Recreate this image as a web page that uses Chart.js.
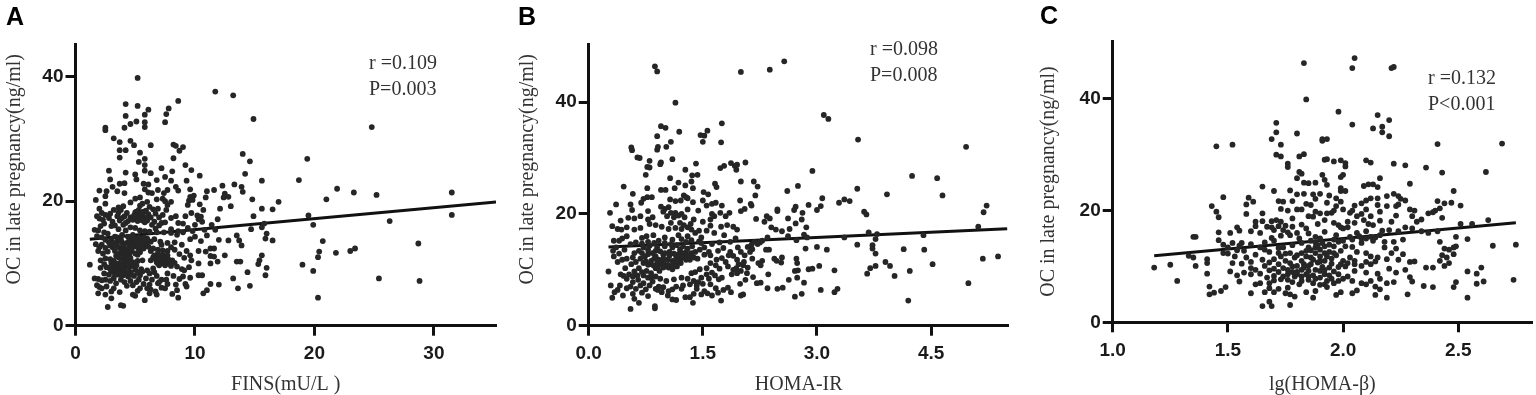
<!DOCTYPE html>
<html>
<head>
<meta charset="utf-8">
<title>OC in late pregnancy</title>
<script src="https://cdn.jsdelivr.net/npm/chart.js@4"></script>
<style>
    html, body { margin: 0; padding: 0; background: #ffffff; }
    body { position: relative; width: 1536px; height: 395px; overflow: hidden; }
    .panel { position: absolute; top: 0; width: 512px; height: 395px; }
    .letter { position: absolute; font: bold 25px "Liberation Sans", sans-serif; color: #000000; line-height: 25px; }
    .note { position: absolute; font: 20px "Liberation Serif", serif; color: #333333; line-height: 26px; white-space: pre; }
</style>
</head>
<body>
<div class="panel" style="left:0"><canvas id="chartA" width="512" height="395"></canvas></div>
<div class="panel" style="left:512px"><canvas id="chartB" width="512" height="395"></canvas></div>
<div class="panel" style="left:1024px"><canvas id="chartC" width="512" height="395"></canvas></div>
<div class="letter" style="left:6px;top:4px">A</div>
<div class="letter" style="left:518px;top:4px">B</div>
<div class="letter" style="left:1040px;top:3px">C</div>
<div class="note" style="left:369px;top:49px">r =0.109
P=0.003</div>
<div class="note" style="left:870px;top:35px">r =0.098
P=0.008</div>
<div class="note" style="left:1428px;top:64px">r =0.132
P&lt;0.001</div>
<script>
// Values: [x, OC]
const finsPoints = [
    [5.2,39.8],[11.7,37.6],[13.2,37.0],[4.2,35.6],[5.2,35.3],[6.1,34.7],[7.8,34.9],[8.6,36.1],[7.6,34.0],[4.2,33.7],
    [5.8,33.9],[14.9,33.2],[5.1,32.8],[4.6,32.4],[5.8,32.7],[7.5,32.7],[4.1,31.8],[5.8,31.9],[2.5,31.8],[2.5,31.4],
    [24.8,31.9],[3.2,30.1],[3.7,29.5],[4.6,29.7],[4.9,29.0],[6.3,29.0],[8.2,29.1],[8.4,28.9],[9.0,28.7],[8.7,28.1],
    [3.7,28.2],[4.2,28.2],[5.4,27.8],[14.0,27.6],[19.4,26.8],[3.7,27.0],[5.8,26.8],[8.2,26.9],[5.3,26.3],[14.6,26.4],
    [5.8,25.8],[9.2,25.8],[7.2,25.3],[9.7,25.0],[2.8,24.9],[5.8,24.9],[4.2,24.6],[5.0,24.3],[6.3,24.5],[8.1,24.8],
    [14.2,24.4],[10.4,24.1],[7.5,23.9],[2.9,23.5],[5.1,23.5],[6.8,23.4],[8.0,23.3],[9.3,23.3],[15.6,23.3],[18.7,23.4],
    [3.7,22.8],[4.1,22.9],[5.7,22.8],[6.1,22.7],[13.3,22.7],[12.3,22.5],[13.9,22.3],[3.1,22.3],[8.4,22.3],[21.9,22.0],
    [2.0,21.7],[2.6,21.6],[11.6,21.8],[11.0,21.6],[14.0,21.5],[23.3,21.4],[31.5,21.4],[25.2,21.0],[3.5,21.6],[4.1,21.3],
    [6.9,21.8],[7.7,21.8],[8.6,21.7],[9.6,21.9],[12.5,21.2],[12.8,20.7],[14.8,20.3],[21.0,20.3],[1.7,20.2],[2.5,20.8],
    [9.6,20.7],[9.9,20.9],[9.5,20.1],[9.8,20.2],[10.9,20.6],[12.4,20.6],[17.0,19.9],[10.4,19.5],[2.5,19.6],[2.0,18.8],
    [12.1,18.8],[15.6,18.8],[16.5,18.7],[13.0,19.2],[10.7,18.6],[19.5,17.7],[31.5,17.8],[14.9,17.6],[11.9,17.1],[26.3,16.8],
    [19.9,16.2],[15.8,16.4],[14.7,15.5],[15.6,15.8],[11.4,16.2],[11.7,15.4],[16.0,14.8],[15.9,14.0],[16.5,13.7],[20.7,13.6],
    [13.5,14.5],[12.8,13.7],[13.7,13.7],[13.9,12.9],[20.4,11.9],[21.8,11.7],[23.4,12.4],[23.0,12.0],[28.7,13.2],[20.3,11.0],
    [15.6,11.3],[12.5,11.3],[15.4,10.5],[15.3,9.9],[13.5,10.3],[13.8,10.3],[19.0,9.8],[1.2,9.8],[16.0,9.3],[19.9,8.8],
    [14.4,8.6],[15.9,8.1],[13.2,7.6],[25.4,7.6],[28.8,7.2],[14.6,6.4],[13.6,6.0],[12.0,6.6],[11.3,6.7],[10.7,5.2],
    [11.0,5.7],[20.3,4.5],[2.7,3.0],[3.8,3.3],[4.0,3.2],[3.0,4.4],[5.8,4.1],[8.6,4.5],[5.0,4.8],[1.9,5.2],
    [2.5,5.0],[6.2,5.2],[8.1,5.1],[9.3,6.3],[10.3,8.1],[10.6,8.1],[9.6,7.7],[9.5,9.4],[10.3,10.0],[10.9,11.9],
    [11.3,12.4],[11.6,12.4],[11.3,11.2],[11.6,11.1],[11.3,10.0],[11.9,10.3],[10.5,13.6],[11.0,14.5],[12.0,13.8],[9.6,13.9],
    [9.3,12.0],[9.6,11.3],[9.1,10.9],[8.9,9.1],[9.1,8.9],[8.7,7.5],[9.2,6.7],[8.5,5.7],[10.6,16.7],[10.3,17.1],
    [10.5,17.5],[10.2,17.7],[9.7,18.1],[9.2,17.6],[8.6,16.5],[9.4,15.7],[9.8,15.2],[9.0,15.0],[8.5,14.6],[8.9,13.0],
    [8.3,12.2],[8.7,11.5],[8.1,10.5],[8.0,9.6],[7.7,8.4],[7.2,7.4],[7.7,6.7],[7.2,6.1],[6.7,5.5],[6.9,6.8],
    [8.0,19.9],[7.7,19.4],[7.5,20.0],[7.3,20.4],[7.4,21.3],[6.8,20.3],[6.4,21.3],[6.1,21.4],[5.8,21.9],[5.4,20.6],
    [5.0,20.4],[4.6,19.8],[6.0,19.9],[5.6,19.6],[6.2,19.1],[6.5,18.7],[6.7,18.0],[5.9,18.5],[5.4,19.3],[5.1,18.3],
    [5.3,17.9],[5.6,17.7],[5.9,17.4],[5.4,17.2],[5.1,17.4],[6.0,16.9],[5.6,16.9],[4.8,17.0],[6.6,16.7],[7.2,16.5],
    [3.6,19.0],[3.6,18.2],[3.5,17.6],[3.8,18.6],[3.1,16.7],[3.3,16.1],[3.6,15.5],[4.0,16.2],[4.4,16.8],[4.6,15.8],
    [5.0,15.7],[5.4,15.3],[5.8,15.2],[6.2,15.1],[6.8,15.0],[7.4,15.0],[8.0,14.9],[4.2,15.3],[3.9,14.6],[3.3,14.3],
    [3.0,13.9],[3.5,13.5],[3.9,13.4],[4.4,14.3],[4.8,14.6],[5.0,14.0],[5.3,14.2],[5.6,13.7],[5.1,13.3],[5.5,13.0],
    [5.9,13.2],[6.1,12.7],[5.7,12.4],[5.3,12.3],[4.9,12.7],[4.5,12.8],[4.1,12.4],[3.7,12.5],[3.3,12.0],[3.7,11.6],
    [4.1,11.3],[4.5,11.5],[3.4,11.2],[3.8,10.8],[4.2,10.5],[3.2,10.4],[3.6,10.0],[4.0,9.8],[4.4,9.9],[4.8,10.2],
    [5.2,10.4],[5.6,10.5],[5.2,11.4],[6.5,12.4],[6.9,12.2],[7.3,12.1],[7.7,12.0],[6.6,11.3],[7.0,11.0],[7.4,10.8],
    [6.3,10.5],[6.8,10.2],[7.2,10.3],[7.6,10.0],[7.0,9.7],[6.5,9.2],[6.0,8.9],[5.5,9.1],[5.0,9.0],[4.6,8.6],
    [4.2,8.7],[3.8,8.9],[3.4,9.0],[3.0,8.7],[3.6,8.2],[4.0,8.1],[4.4,7.9],[4.9,8.0],[5.4,8.1],[3.2,7.6],
    [3.8,7.4],[4.6,7.2],[5.1,7.0],[5.9,7.6],[6.4,7.4],[6.8,8.0],[5.7,6.7],[6.2,6.6],[3.4,6.8],[4.3,6.4],
    [3.2,6.0],[3.0,5.5],[3.7,5.4],[4.8,5.0],[5.2,5.6],[6.8,5.0],[7.5,6.0],[2.2,13.0],[2.0,12.6],[2.5,12.5],
    [1.9,12.0],[2.3,11.6],[2.7,11.9],[2.1,10.5],[2.5,10.8],[2.9,10.7],[2.6,9.4],[2.9,9.1],[1.6,7.6],[1.9,7.5],
    [2.2,7.3],[2.5,7.4],[2.9,7.2],[1.8,6.5],[2.0,6.2],[2.2,6.0],[2.6,6.3],[1.8,17.6],[2.0,17.2],[2.3,17.0],
    [2.8,17.3],[1.6,15.4],[1.9,15.3],[2.4,15.0],[2.7,14.8],[3.0,16.0],[4.7,13.6],[6.6,13.9],[7.1,13.5],[7.7,13.3],
    // dense middle of the cloud
    [5.0,18.2],[5.3,18.6],[5.7,18.3],[6.1,17.9],[6.3,17.4],[5.2,16.8],[4.9,17.7],[5.5,18.1],[5.8,16.6],[6.4,16.2],
    [4.6,17.4],[4.3,18.1],[4.1,17.6],[4.0,19.2],[3.7,16.9],[3.9,17.3],[4.2,16.5],[6.7,15.6],[7.0,16.1],[7.5,16.6],
    [4.5,13.7],[4.7,13.1],[5.0,12.9],[5.2,12.9],[5.4,12.7],[5.6,13.2],[5.8,13.0],[5.0,13.6],[5.3,13.8],[5.7,14.2],
    [6.0,14.0],[6.3,13.5],[4.8,14.0],[4.3,13.3],[4.0,13.0],[3.8,13.9],[3.5,14.2],[3.2,13.3],[2.9,12.9],[3.1,12.6],
    [3.5,12.8],[3.9,12.1],[4.2,11.9],[4.4,12.2],[4.7,12.0],[5.0,11.6],[5.4,11.8],[3.6,11.0],[3.9,11.4],[4.3,11.0],
    [4.6,10.9],[4.0,10.4],[4.4,10.5],[3.4,10.0],[3.0,10.1],[3.7,9.5],[4.1,9.3],[4.5,9.4],[3.3,9.4],[3.0,9.6],
    [4.8,9.6],[5.1,9.7],[3.9,8.4],[4.3,8.3],[4.7,8.2],[3.5,8.6],[5.2,8.6],[5.6,8.7],[6.2,8.4],[6.6,8.6],
    [6.7,10.7],[7.0,10.5],[7.3,10.0],[7.5,9.7],[7.9,9.9],[7.4,10.3],[6.9,10.0],[7.8,10.6],[8.3,10.1],[8.5,9.5],
    [6.5,11.0],[6.9,11.6],[7.3,11.4],[7.7,11.3],[6.3,12.0],[8.0,12.6],[8.3,13.4],[7.2,13.0],[8.0,15.5],[8.6,15.2],
    [7.0,17.4],[7.3,17.8],[6.9,18.8],[7.6,18.6],[8.0,17.3],[8.4,17.6],[3.2,18.6],[2.9,18.0],[2.5,17.8],[2.2,18.1],
    [2.4,16.4],[2.1,16.0],[1.8,14.4],[2.2,14.2],[2.5,13.8],[2.8,13.4],[1.7,13.1],[2.4,9.9],[2.1,9.3],[2.4,8.4],
    [2.8,8.2],[3.3,8.2],[4.1,7.0],[4.8,6.5],[5.4,6.0],[6.0,6.0],[5.3,7.4],[6.3,5.8],[7.0,7.0],[7.6,7.4],
    [8.2,8.0],[9.0,7.9],[8.4,6.6],[9.7,10.5],[10.3,12.0],[10.0,14.3],[10.8,15.4],[10.0,16.2],[9.0,16.4],[9.4,19.4]
];
const homaIrPoints = [
    [0.87,46.4],[0.90,45.5],[2.00,45.4],[2.38,45.8],[2.57,47.3],[1.14,39.9],[3.09,37.7],[3.15,37.0],[1.75,36.2],[0.95,35.7],
    [1.01,35.4],[1.56,34.9],[1.19,34.7],[1.47,34.1],[1.52,34.0],[0.90,33.9],[3.54,33.3],[1.08,32.9],[1.50,32.9],[1.74,32.8],
    [4.96,32.0],[0.56,31.9],[0.57,31.4],[0.91,32.0],[0.90,31.5],[1.02,32.0],[0.64,30.1],[0.67,30.0],[0.80,29.5],[1.10,29.8],
    [0.95,29.2],[0.94,28.9],[1.41,29.0],[2.06,29.2],[1.87,29.1],[1.95,28.8],[1.92,28.6],[0.77,28.4],[0.80,28.3],[1.78,28.6],
    [1.73,28.2],[1.94,27.9],[1.27,27.9],[2.94,27.7],[1.36,26.9],[1.43,27.0],[0.75,27.0],[4.25,26.8],[1.07,26.4],[4.58,26.4],
    [1.35,25.8],[2.17,25.8],[2.00,25.8],[1.18,25.6],[1.66,25.4],[1.68,24.8],[1.27,25.1],[2.22,24.9],[2.75,25.0],[0.46,24.9],
    [0.77,24.6],[0.95,24.3],[1.01,24.3],[1.13,24.6],[1.37,24.6],[3.53,24.5],[2.61,24.1],[1.51,23.9],[1.57,23.5],[0.58,23.6],
    [3.92,23.5],[4.65,23.3],[2.19,23.3],[1.25,23.3],[1.28,23.0],[0.77,23.0],[0.72,22.7],[0.83,23.0],[3.07,22.8],[3.36,22.6],
    [3.43,22.3],[1.99,22.4],[1.07,22.6],[1.14,22.3],[1.21,22.4],[1.37,22.1],[3.29,22.0],[2.13,21.8],[2.14,21.5],[0.36,21.7],
    [0.55,21.7],[0.69,22.0],[2.89,21.6],[5.23,21.5],[3.05,21.4],[1.62,21.8],[1.67,22.0],[1.75,21.5],[2.72,21.3],[2.70,20.7],
    [2.48,20.8],[2.48,20.5],[3.00,20.7],[5.19,20.3],[3.62,20.4],[3.65,19.9],[2.00,20.5],[2.05,20.9],[2.81,20.2],[0.28,20.2],
    [0.57,20.7],[0.78,20.5],[0.31,17.8],[5.12,17.7],[2.86,17.6],[3.68,16.7],[3.79,16.4],[4.40,16.2],[3.77,15.5],[3.36,15.8],
    [3.53,14.5],[3.73,14.4],[3.73,13.8],[4.14,13.7],[4.41,13.6],[3.13,13.6],[2.85,13.8],[3.00,14.1],[3.77,12.9],[5.38,12.4],
    [5.18,12.0],[3.90,11.4],[3.96,10.7],[4.52,11.0],[3.77,10.7],[3.70,10.3],[3.66,9.3],[3.03,10.7],[2.89,10.1],[2.94,10.2],
    [3.23,9.9],[4.22,9.8],[4.02,8.9],[4.99,7.6],[3.05,6.4],[3.23,6.0],[3.27,6.6],[2.83,7.7],[2.74,8.6],[2.63,8.2],
    [2.71,5.2],[2.80,5.7],[2.55,6.8],[2.48,6.6],[2.35,6.7],[4.20,4.5],[2.71,9.8],[2.75,9.9],[2.73,12.0],[2.74,11.2],
    [2.54,12.2],[2.53,11.3],[2.44,12.0],[2.47,11.6],[2.37,13.6],[2.33,13.6],[2.28,11.6],[2.26,10.8],[2.23,11.2],[2.36,9.2],
    [2.26,7.7],[2.21,7.6],[2.16,8.7],[2.06,8.2],[2.54,16.9],[2.40,17.6],[2.46,17.2],[2.62,19.2],[2.72,18.3],[2.80,19.0],
    [2.64,17.3],[2.20,19.1],[2.31,18.6],[2.34,19.6],[2.38,19.2],[2.62,16.0],[2.73,15.3],[2.83,16.3],[2.87,15.8],[2.28,15.2],
    [2.35,15.8],[2.18,15.0],[2.14,14.5],[2.09,14.1],[2.15,13.7],[1.96,14.0],[2.00,13.2],[2.05,12.6],[2.15,12.0],[1.95,11.8],
    [1.97,11.0],[2.03,10.8],[2.09,10.4],[1.94,10.3],[2.00,9.8],[2.08,9.4],[1.88,9.2],[1.99,7.5],[2.00,5.4],[2.03,5.6],
    [1.87,6.0],[1.77,6.4],[1.83,6.8],[1.74,4.5],[1.62,5.4],[1.70,5.9],[1.56,5.8],[1.60,7.4],[1.67,6.7],[1.48,5.6],
    [1.52,6.2],[1.42,7.2],[1.37,4.1],[1.33,5.1],[1.27,5.1],[1.38,5.7],[1.10,4.7],[1.15,4.6],[1.04,5.4],[0.87,3.1],
    [0.87,3.5],[0.55,3.0],[0.66,4.1],[0.60,4.8],[0.78,5.3],[0.45,5.4],[0.31,5.0],[0.34,6.0],[0.29,7.2],[0.26,9.7],
    [0.38,6.4],[0.41,7.2],[0.50,6.7],[0.58,5.7],[0.70,5.9],[0.75,6.5],[0.91,6.4],[0.98,6.9],[1.10,6.5],[1.22,6.6],
    [1.33,7.4],[1.42,6.6],[1.48,8.6],[1.40,9.6],[1.46,10.1],[1.55,10.3],[1.60,11.2],[1.67,10.8],[1.62,9.5],[1.71,8.3],
    [1.75,8.6],[1.83,10.6],[1.80,11.4],[1.75,12.1],[1.70,13.4],[1.60,12.6],[1.52,12.7],[1.43,12.0],[1.52,14.0],[1.62,14.6],
    [1.72,14.9],[1.77,13.9],[1.86,15.0],[1.93,15.6],[1.82,18.0],[1.90,17.7],[1.95,17.2],[1.74,17.7],[1.60,17.9],[1.55,17.0],
    [1.45,17.0],[1.65,19.6],[1.80,19.6],[1.73,20.2],[1.85,20.2],[1.60,19.0],[1.50,18.6],[1.38,19.0],[1.30,20.8],[1.22,20.0],
    [1.12,19.4],[1.18,19.7],[1.08,20.2],[1.03,19.6],[1.00,20.9],[1.05,21.2],[1.25,18.0],[1.22,17.3],[1.30,17.6],[1.35,17.2],
    [1.40,16.6],[1.18,16.2],[1.10,15.4],[1.05,17.3],[0.96,17.7],[0.88,18.0],[0.78,19.0],[0.80,18.2],[0.85,16.2],[0.76,16.0],
    [0.68,17.5],[0.60,17.2],[0.50,16.0],[0.44,15.6],[0.33,15.2],[0.40,15.2],[0.38,17.3],[0.43,17.2],[0.42,18.8],[0.52,19.3],
    [0.60,19.2],[0.70,15.7],[0.62,14.9],[0.55,14.6],[0.47,13.6],[0.40,12.9],[0.33,12.4],[0.50,12.0],[0.56,11.0],[0.48,10.3],
    [0.53,9.2],[0.60,9.7],[0.66,10.3],[0.72,9.0],[0.65,8.2],[0.58,7.8],[0.50,8.4],[0.78,8.6],[0.72,7.6],[0.84,7.9],
    [0.82,9.4],[0.88,10.3],[0.93,9.8],[0.98,10.4],[0.78,10.9],[0.82,11.6],[0.90,11.2],[0.98,11.3],[1.04,10.9],[1.10,10.1],
    [1.16,10.6],[1.21,11.2],[1.28,11.8],[1.34,12.6],[1.25,12.9],[1.15,12.3],[1.06,12.5],[0.98,12.7],[0.88,12.4],[0.78,12.8],
    [0.70,13.0],[0.72,14.0],[0.80,14.3],[0.90,14.0],[1.00,14.2],[1.10,14.0],[1.20,13.6],[1.30,13.8],[1.36,14.2],[1.40,13.2],
    [0.92,15.2],[1.00,15.8],[1.28,15.0],[1.35,15.3],[1.45,15.1],[1.02,8.0],[1.12,8.3],[1.22,8.6],[1.35,9.4],[0.92,7.0],
    // dense middle of the cloud
    [0.75,11.5],[0.80,11.0],[0.85,10.8],[0.90,10.5],[0.95,10.9],[1.00,10.6],[1.05,10.4],[1.10,10.8],[1.15,11.2],[1.20,11.7],
    [1.25,12.2],[1.30,12.4],[1.35,13.0],[1.33,11.8],[1.38,12.2],[1.28,13.2],[1.22,13.0],[1.18,12.8],[1.12,12.9],[1.06,13.2],
    [1.00,13.0],[0.94,13.3],[0.88,13.4],[0.84,13.0],[0.78,13.6],[0.74,12.4],[0.68,12.0],[0.72,11.2],[0.86,12.0],[0.92,11.8],
    [0.98,12.0],[1.04,11.8],[1.10,11.6],[1.16,11.8],[1.22,12.2],[1.00,14.8],[1.08,14.6],[1.16,14.4],[1.24,14.2],[0.86,14.8],
    [0.78,15.0],[0.70,14.7],[0.66,13.4],[0.60,13.0],[0.58,12.2],[0.62,11.4],[0.44,11.8],[0.38,11.4],[0.32,13.4],[0.36,14.0],
    [0.64,9.0],[0.70,9.6],[0.76,9.8],[0.82,8.6],[0.88,8.8],[0.94,8.4],[0.58,8.8],[0.46,8.9],[0.42,9.2],[0.68,7.2],
    [0.62,6.6],[0.55,7.0],[0.80,7.2],[0.88,6.6],[0.96,6.0],[1.05,6.2],[1.15,7.0],[1.24,7.2],[1.30,8.4],[1.38,8.0],
    [1.44,7.8],[1.50,7.5],[1.55,9.2],[1.58,8.4],[1.66,9.0],[1.72,10.2],[1.68,11.8],[1.58,13.2],[1.46,13.6],[1.48,14.8],
    [1.30,16.0],[1.22,15.5],[1.14,17.5],[1.08,18.4],[1.20,18.4],[1.14,20.2],[1.26,19.4],[1.34,18.2],[1.48,15.8],[1.65,16.6],
    [1.78,16.2],[1.86,13.2],[1.90,12.5],[1.84,12.6],[1.95,9.4],[1.90,10.0],[2.04,11.4],[2.12,13.2],[2.22,14.6],[2.25,14.9],
    [1.62,20.0],[1.55,21.5],[1.44,20.6],[1.50,22.4],[1.30,22.8],[0.95,21.3],[0.98,20.4],[0.84,19.4],[0.68,19.6],[0.50,17.6]
];
const homaBetaPoints = [
    [1.83,46.4],[2.05,47.3],[2.04,45.5],[2.21,45.5],[2.22,45.7],[1.84,39.9],[1.98,37.7],[2.15,37.1],[2.20,36.2],[1.71,35.7],
    [2.04,35.4],[2.17,35.0],[2.13,34.7],[2.17,34.0],[1.71,34.0],[1.80,33.8],[2.20,33.3],[1.69,32.8],[1.93,32.8],[1.91,32.5],
    [1.91,32.8],[1.73,31.8],[1.52,31.8],[1.45,31.5],[2.41,31.9],[2.69,32.0],[1.71,30.0],[1.73,29.7],[1.81,29.7],[1.83,30.1],
    [1.92,29.1],[1.93,29.2],[1.96,28.8],[1.99,29.0],[2.10,29.0],[2.12,28.6],[1.76,28.4],[1.76,27.8],[2.01,28.5],[2.01,27.9],
    [2.22,28.4],[2.27,28.1],[2.36,27.7],[2.43,26.8],[2.62,26.9],[1.81,26.9],[1.82,26.6],[1.91,26.4],[1.92,25.5],[1.93,24.6],
    [2.00,26.4],[1.99,26.0],[1.80,25.8],[1.83,25.0],[1.85,24.9],[2.16,25.8],[1.88,25.0],[2.29,24.8],[2.09,24.4],[2.11,24.7],
    [2.13,24.7],[2.15,24.2],[1.65,24.3],[1.99,24.0],[1.99,23.5],[2.01,23.5],[1.70,23.5],[1.77,23.6],[1.48,22.4],[2.48,23.5],
    [2.41,21.7],[1.43,20.8],[1.45,19.8],[1.46,18.8],[1.58,21.1],[1.59,22.3],[1.61,21.6],[1.58,19.4],[1.65,19.5],[2.54,14.9],
    [2.65,13.7],[2.75,13.9],[2.63,18.3],[2.56,17.6],[2.51,17.6],[2.51,20.9],[2.47,21.4],[2.44,21.3],[2.40,20.0],[2.42,20.4],
    [1.35,15.3],[1.36,15.3],[1.46,16.1],[1.46,14.7],[1.51,16.0],[1.54,17.0],[1.18,9.8],[1.25,10.3],[1.28,7.4],[1.33,11.9],
    [1.35,11.6],[1.36,10.1],[1.41,11.3],[1.41,10.6],[1.41,8.7],[1.42,6.4],[1.42,5.0],[1.44,5.3],[1.47,5.6],[1.49,6.3],
    [1.51,9.1],[1.60,5.2],[1.65,2.9],[1.69,2.9],[1.68,3.7],[1.77,3.1],[2.74,7.6],[2.54,4.4],[2.48,6.3],[2.49,7.2],
    [2.54,9.1],[2.58,8.7],[2.60,9.8],[2.58,6.9],[2.61,7.3],[2.28,5.0],[2.19,4.4],[2.39,6.3],[2.35,6.5],[2.04,5.2],
    [2.06,5.7],[2.14,4.9],[2.16,5.9],[2.14,6.4],[2.10,6.8],[2.36,9.8],[2.39,9.8],[2.49,13.6],[2.49,15.3],[2.48,12.2],
    [2.42,14.4],[2.44,13.2],[2.46,13.0],[2.43,12.0],[2.45,11.6],[2.42,11.0],[2.44,10.1],[2.46,10.6],[2.48,13.4],[2.41,16.3],
    [2.37,16.0],[2.34,16.3],[2.30,16.8],[2.32,18.0],[2.30,19.0],[2.34,18.4],[2.29,20.2],[2.31,20.0],[2.37,19.5],[2.39,19.7],
    [2.43,18.7],[2.25,22.1],[2.24,21.1],[2.27,21.8],[2.22,23.0],[2.24,22.6],[2.19,22.6],[2.15,22.2],[2.12,22.2],[2.10,21.8],
    [2.08,21.3],[2.15,21.0],[2.19,20.8],[2.23,20.8],[2.16,19.8],[2.10,20.2],[2.05,20.9],[2.03,19.6],[2.06,19.0],[2.09,18.3],
    [2.11,17.6],[2.13,17.4],[2.23,19.1],[2.21,18.0],[2.20,16.5],[2.24,16.3],[2.27,17.0],[2.17,16.4],[2.12,15.3],[2.08,15.0],
    [2.03,15.3],[2.00,16.8],[2.02,17.0],[1.98,17.4],[1.96,17.8],[1.92,18.3],[1.95,19.6],[1.90,19.5],[1.85,19.0],[1.87,18.9],
    [1.80,20.2],[1.82,20.2],[1.73,20.3],[1.74,21.6],[1.78,21.7],[1.84,21.2],[1.88,22.1],[1.90,23.0],[1.94,22.7],[1.97,22.2],
    [1.99,21.6],[1.93,21.4],[1.97,20.8],[2.00,20.2],[1.87,22.9],[1.83,23.0],[1.80,22.9],[1.69,18.1],[1.71,18.3],[1.73,18.0],
    [1.75,17.3],[1.78,18.6],[1.82,17.5],[1.84,16.8],[1.89,17.6],[1.65,18.1],[1.67,17.1],[1.62,17.2],[1.60,16.3],[1.64,16.0],
    [1.70,16.5],[1.73,15.5],[1.77,15.6],[1.81,15.0],[1.88,15.3],[1.92,16.2],[1.97,15.6],[1.70,14.6],[1.66,14.3],[1.60,14.0],
    [1.55,13.7],[1.52,14.2],[1.50,12.3],[1.53,11.8],[1.56,10.5],[1.60,10.8],[1.57,12.8],[1.62,12.1],[1.65,11.2],[1.68,12.6],
    [1.72,13.3],[1.75,12.3],[1.70,11.3],[1.66,10.1],[1.64,8.7],[1.57,8.9],[1.55,7.3],[1.64,7.0],[1.68,6.1],[1.66,5.4],
    [1.70,5.4],[1.73,7.7],[1.70,8.3],[1.74,9.7],[1.77,10.6],[1.79,11.6],[1.82,12.4],[1.85,13.4],[1.88,14.3],[1.92,13.6],
    [1.86,11.6],[1.88,12.4],[1.90,11.8],[1.92,11.0],[1.94,12.6],[1.96,13.6],[1.98,14.4],[1.89,10.7],[1.95,10.5],[1.98,9.9],
    [2.00,11.0],[2.03,11.6],[2.06,12.6],[2.04,13.5],[2.08,14.2],[2.13,14.6],[2.18,13.4],[2.23,13.2],[2.15,11.6],[2.19,11.3],
    [2.24,11.2],[2.29,10.8],[2.31,10.9],[2.12,10.4],[2.08,10.1],[2.05,9.2],[2.10,8.9],[2.15,8.7],[2.20,9.6],[2.23,8.9],
    [2.27,9.4],[2.29,8.1],[2.30,7.3],[2.22,7.2],[2.19,7.0],[1.80,10.1],[1.82,9.4],[1.84,8.6],[1.79,8.2],[1.76,7.6],
    [1.81,6.8],[1.77,5.0],[1.79,4.6],[1.84,5.4],[1.87,4.4],[1.88,5.6],[1.90,6.7],[1.93,6.3],[1.97,4.9],[1.99,5.4],
    [1.95,7.8],[1.98,8.6],[2.02,8.2],[1.92,8.6],[1.88,9.4],[1.85,7.6],[1.87,7.0],[1.91,9.9],[1.96,9.1],[2.01,10.0],
    // dense middle of the cloud
    [1.76,9.4],[1.78,9.0],[1.80,8.6],[1.82,8.2],[1.78,10.0],[1.83,10.4],[1.85,10.1],[1.76,8.6],[1.74,8.2],[1.72,9.0],
    [1.85,9.2],[1.87,8.4],[1.90,8.0],[1.93,7.4],[1.96,7.0],[1.92,9.4],[1.94,9.8],[1.99,10.4],[2.02,10.6],[2.05,10.4],
    [1.86,12.9],[1.88,13.4],[1.90,13.0],[1.84,11.8],[1.82,11.0],[1.87,11.2],[1.90,10.9],[1.93,11.8],[1.95,11.4],[1.97,12.0],
    [1.99,12.8],[2.01,13.6],[1.94,13.9],[1.91,14.2],[1.86,14.6],[1.82,14.2],[1.78,13.8],[1.74,13.4],[1.72,12.4],[1.77,12.4],
    [1.72,10.4],[1.68,10.7],[1.68,9.3],[1.62,9.4],[1.60,9.7],[1.58,11.6],[1.64,13.4],[1.56,14.2],[1.66,13.0],[1.69,15.1],
    [1.74,16.5],[1.76,16.1],[1.72,17.2],[1.69,17.0],[1.78,17.1],[1.80,16.0],[1.85,15.9],[1.90,15.0],[1.96,14.8],[2.00,14.6],
    [2.04,14.8],[2.07,15.4],[2.10,15.0],[2.14,15.2],[2.06,16.0],[2.10,16.3],[2.16,15.6],[2.02,18.0],[1.99,17.0],[2.05,17.8],
    [2.08,19.4],[2.04,20.0],[1.96,20.0],[1.93,19.5],[1.88,19.8],[1.86,21.0],[1.76,20.0],[1.72,21.7],[2.12,19.0],[2.16,18.2],
    [2.18,14.4],[2.22,14.4],[2.26,14.8],[2.21,12.4],[2.26,12.2],[2.12,11.8],[2.10,12.4],[2.14,10.9],[2.10,10.8],[2.05,11.0],
    [1.70,7.5],[1.68,7.0],[1.76,6.2],[1.72,6.0],[1.75,5.2],[1.62,6.8],[1.60,8.6],[1.54,8.4],[1.52,10.6],[1.48,12.4],
    [1.50,13.4],[1.54,12.9],[1.48,13.9],[1.55,16.4],[1.62,18.0],[2.00,7.8],[2.04,7.4],[2.08,7.0],[2.12,7.4],[2.16,7.8],
    [1.80,9.0],[1.83,9.8],[1.86,10.4],[1.75,11.0],[1.73,11.8],[1.80,12.0],[1.84,12.8],[1.89,13.8],[1.92,12.4],[1.96,12.4],
    [1.90,9.2],[1.94,8.4],[1.98,7.4],[1.85,8.2],[1.82,7.4],[1.78,7.2],[1.88,7.8],[1.92,6.8],[1.70,9.6],[1.67,8.0]
];

// Fitted lines: start and end of each regression line
const finsFit = [[1.2,13.9],[35.2,19.87]];
const homaIrFit = [[0.26,14.08],[5.5,17.35]];
const homaBetaFit = [[1.18,11.93],[2.75,17.83]];

const finsXTicks = [0, 10, 20, 30];
const homaIrXTicks = [0, 1.5, 3, 4.5];
const homaBetaXTicks = [1, 1.5, 2, 2.5];
const oCTicks = [0, 20, 40];

const oCTitle = 'OC in late pregnancy(ng/ml)';
const inkColor = '#111111';
const dotColor = '#262626';
const titleColor = '#333333';
const tickFont = { family: '"Liberation Sans", sans-serif', size: 19, weight: 'bold' };
const titleFont = { family: '"Liberation Serif", serif', size: 20 };

function toXY(pairs) {
    return pairs.map(([x, y]) => ({ x, y }));
}

function drawPanel(id, cfg) {
    new Chart(document.getElementById(id), {
        type: 'scatter',
        data: {
            datasets: [{
                data: toXY(cfg.points),
                backgroundColor: dotColor,
                borderWidth: 0,
                pointRadius: 2.9
            }, {
                type: 'line',
                data: toXY(cfg.fit),
                borderColor: inkColor,
                borderWidth: 3,
                pointRadius: 0,
                fill: false
            }]
        },
        options: {
            responsive: false,
            animation: false,
            layout: { padding: { top: cfg.top, right: cfg.right, left: 0, bottom: 0 } },
            plugins: { legend: { display: false }, tooltip: { enabled: false } },
            scales: {
                x: {
                    type: 'linear',
                    min: cfg.xMin,
                    max: cfg.xMax,
                    afterBuildTicks: (scale) => { scale.ticks = cfg.xTicks.map((value) => ({ value })); },
                    afterFit: (scale) => { scale.height = cfg.bottom; },
                    border: { color: inkColor, width: 3 },
                    grid: { drawOnChartArea: false, tickLength: 10, tickWidth: 3, tickColor: inkColor },
                    ticks: {
                        color: '#1a1a1a',
                        font: tickFont,
                        padding: 7,
                        maxRotation: 0,
                        autoSkip: false,
                        callback: (value) => value.toFixed(cfg.xDigits)
                    },
                    title: { display: true, text: cfg.xTitle, color: titleColor, font: titleFont, padding: { top: 0, bottom: -2 } }
                },
                y: {
                    type: 'linear',
                    min: 0,
                    max: cfg.yMax,
                    afterBuildTicks: (scale) => { scale.ticks = oCTicks.map((value) => ({ value })); },
                    afterFit: (scale) => { scale.width = cfg.left; },
                    border: { color: inkColor, width: 3 },
                    grid: { drawOnChartArea: false, tickLength: 10, tickWidth: 3, tickColor: inkColor },
                    ticks: { color: '#1a1a1a', font: tickFont, padding: 2 },
                    // align end plus trailing spaces moves the title up from the centre
                    title: {
                        display: true,
                        text: oCTitle + '\u00a0'.repeat(cfg.titleSpaces),
                        align: 'end',
                        color: titleColor,
                        font: titleFont,
                        padding: { top: cfg.titleLeft, bottom: 0 }
                    }
                }
            }
        }
    });
}

drawPanel('chartA', {
    points: finsPoints, fit: finsFit, xTicks: finsXTicks, xDigits: 0, xTitle: 'FINS(mU/L )',
    xMin: 0, xMax: 35.2, yMax: 45.25, left: 75.5, right: 16, top: 44, bottom: 69.3, titleLeft: 3, titleSpaces: 2
});
drawPanel('chartB', {
    points: homaIrPoints, fit: homaIrFit, xTicks: homaIrXTicks, xDigits: 1, xTitle: 'HOMA-IR',
    xMin: 0, xMax: 5.52, yMax: 50.4, left: 76.7, right: 15.3, top: 44, bottom: 69.3, titleLeft: 4, titleSpaces: 2
});
drawPanel('chartC', {
    points: homaBetaPoints, fit: homaBetaFit, xTicks: homaBetaXTicks, xDigits: 1, xTitle: 'lg(HOMA-β)',
    xMin: 1, xMax: 2.82, yMax: 50.3, left: 88.7, right: 3, top: 41.3, bottom: 72.7, titleLeft: 13, titleSpaces: 5
});
</script>
</body>
</html>
